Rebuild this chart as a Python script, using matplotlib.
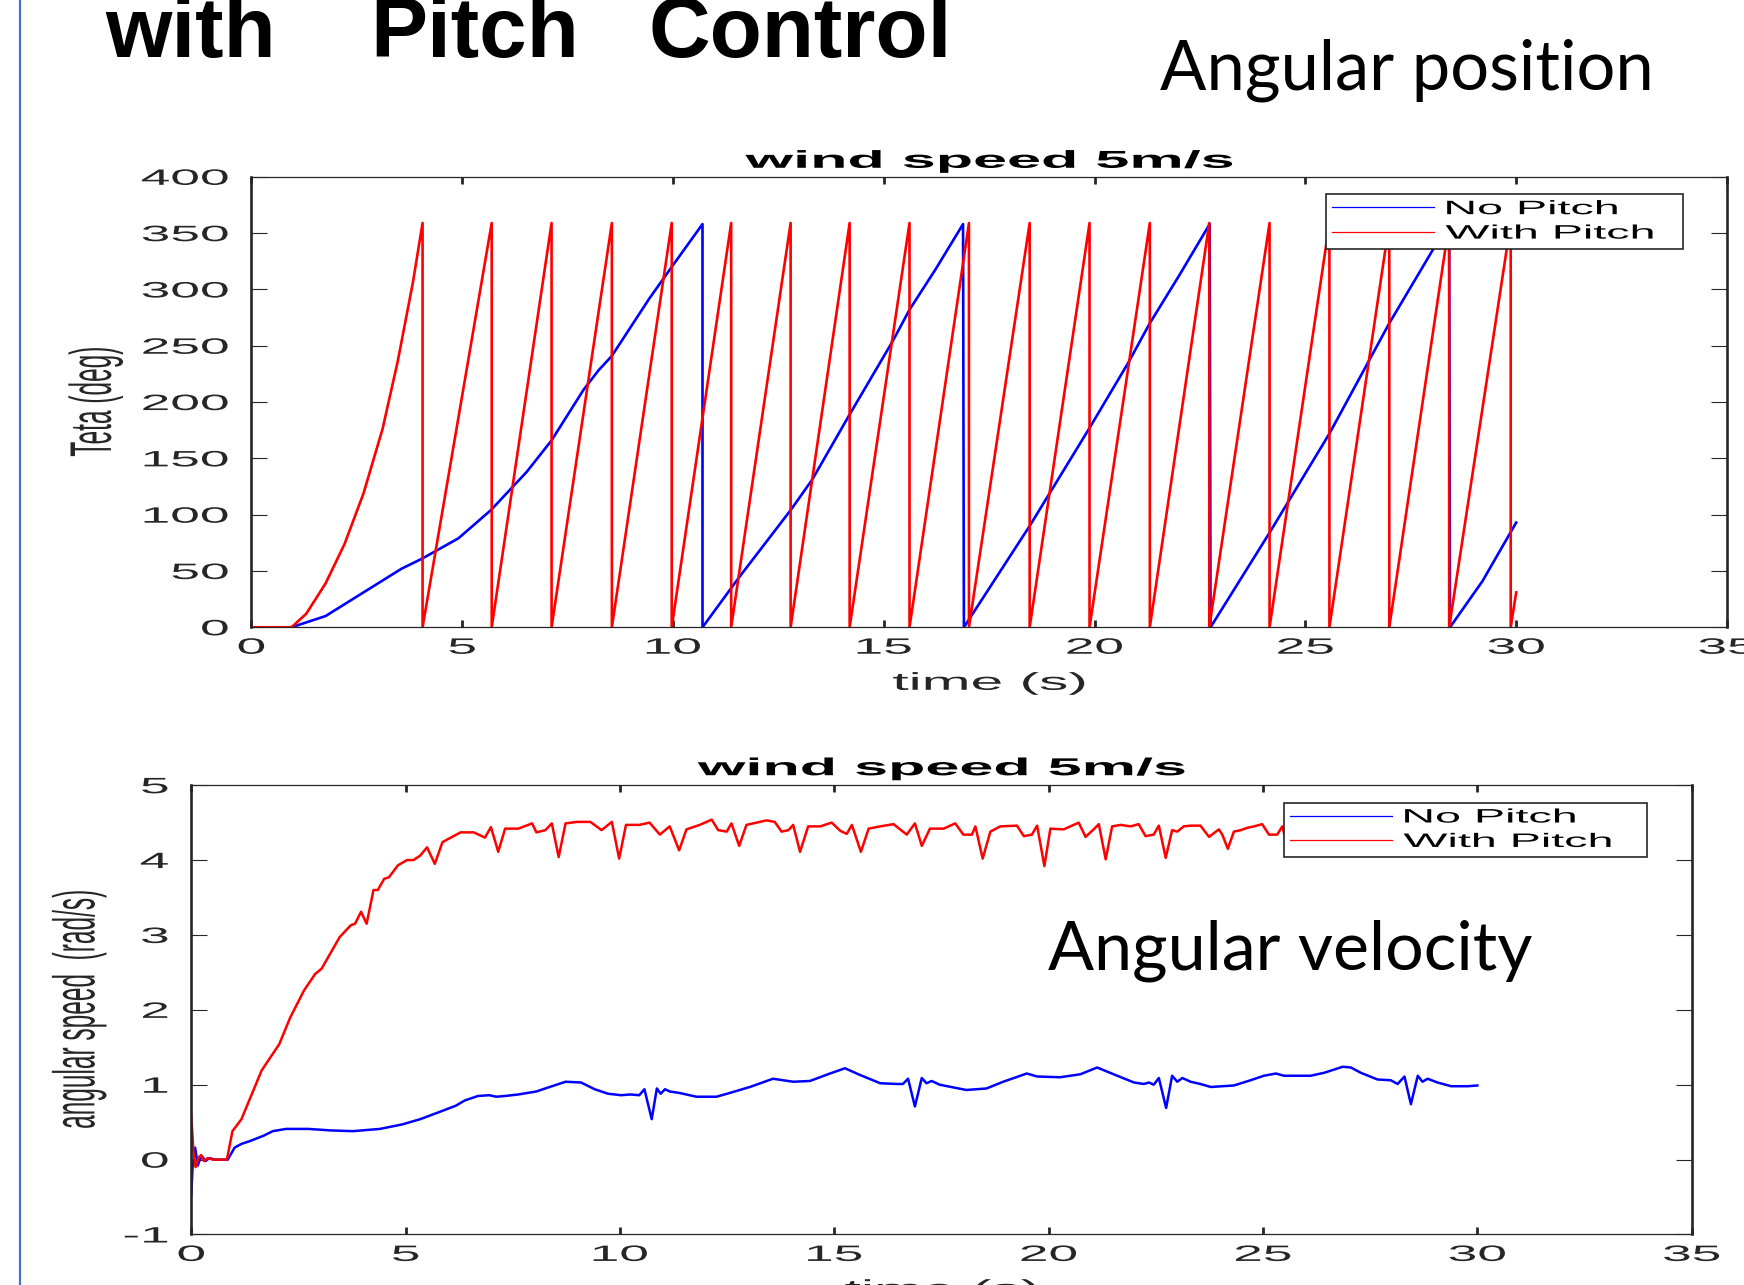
import matplotlib
matplotlib.use("Agg")
import matplotlib.pyplot as plt
import matplotlib.patheffects as pe
from matplotlib.transforms import Affine2D
from matplotlib.lines import Line2D

plt.rcParams['font.family'] = ['Liberation Sans', 'DejaVu Sans']
plt.rcParams['axes.unicode_minus'] = False

# ---------------- data ----------------
# angular position (deg), wraps at 360
red_start_t = [0, 0.95, 1.3, 1.76, 2.21, 2.66, 3.11, 3.47, 3.83, 4.06]
red_start_deg = [0, 0, 12, 39, 74, 119, 176, 236, 306, 359]
red_wraps = [4.06, 5.70, 7.12, 8.55, 9.97, 11.38, 12.79, 14.19, 15.61, 17.02,
             18.46, 19.88, 21.31, 22.72, 24.15, 25.57, 26.99, 28.41, 29.87]
red_peak = 359
red_end_t = [29.87, 30.0]
red_end_deg = [0, 31]

blue_pos_t = [0, 0.95, 1.76, 2.66, 3.56, 4.05, 4.91, 5.68, 6.53, 7.12, 7.88, 8.23,
              8.55, 9.44, 9.97, 10.70,
              10.70, 11.56, 12.79, 13.30, 14.19, 15.21, 15.61, 16.23, 16.88,
              16.90, 18.46, 19.88, 20.8, 21.31, 22.0, 22.73,
              22.75, 24.15, 25.57, 26.44, 26.99, 28.02, 28.41,
              28.43, 29.2, 30.0]
blue_pos_deg = [0, 0, 10, 31, 52, 61, 79, 104, 138, 166, 211, 228,
                241, 292, 320, 358,
                0, 44, 104, 131, 189, 254, 282, 318, 358,
                0, 90, 177, 235, 270, 312, 358,
                0, 84, 172, 232, 270, 335, 358,
                0, 41, 93]

# angular speed (rad/s)
red_spd_t = [0, 0.05, 0.1, 0.17, 0.23, 0.3, 0.38, 0.5, 0.83, 0.96, 1.17, 1.64, 2.05,
             2.31, 2.63, 2.89, 3.04, 3.46, 3.72, 3.82, 3.96, 4.09, 4.25, 4.35, 4.5,
             4.61, 4.82, 5.03, 5.18, 5.34, 5.5, 5.68, 5.86, 6.02, 6.28, 6.59, 6.85,
             6.99, 7.16, 7.32, 7.63, 7.95, 8.05, 8.26, 8.41, 8.57, 8.73, 9.0, 9.31,
             9.57, 9.81, 9.98, 10.14, 10.45, 10.69, 10.93, 11.16, 11.38, 11.55,
             11.86, 12.14, 12.29, 12.49, 12.60, 12.78, 12.95, 13.19, 13.42, 13.61,
             13.77, 13.93, 14.04, 14.20, 14.39, 14.67, 14.94, 15.14, 15.29, 15.41,
             15.62, 15.80, 16.07, 16.38, 16.69, 16.88, 17.04, 17.23, 17.55, 17.82,
             18.01, 18.21, 18.29, 18.46, 18.64, 18.87, 19.26, 19.42, 19.61, 19.73,
             19.90, 20.04, 20.35, 20.70, 20.86, 21.05, 21.17, 21.33, 21.48, 21.68,
             21.91, 22.10, 22.26, 22.45, 22.57, 22.73, 22.88, 23.0, 23.15, 23.31,
             23.54, 23.74, 23.97, 24.05, 24.18, 24.32, 24.48, 24.63, 24.79, 24.98,
             25.14, 25.33, 25.45, 25.6, 25.8, 26.2, 26.6, 26.8, 27.0, 27.2, 27.6,
             28.0, 28.2, 28.41, 28.6, 29.0, 29.4, 29.6, 29.85, 30.0]
red_spd = [0.58, 0.1, -0.1, 0.03, 0.06, -0.02, 0.02, 0.0, 0.0, 0.38, 0.54, 1.19, 1.54,
           1.90, 2.26, 2.48, 2.55, 2.97, 3.13, 3.15, 3.31, 3.15, 3.60, 3.60, 3.75,
           3.77, 3.93, 4.0, 4.0, 4.06, 4.17, 3.95, 4.24, 4.29, 4.37, 4.37, 4.30,
           4.44, 4.11, 4.42, 4.42, 4.49, 4.37, 4.40, 4.49, 4.04, 4.49, 4.51, 4.51,
           4.40, 4.51, 4.02, 4.47, 4.47, 4.50, 4.34, 4.45, 4.13, 4.41,
           4.47, 4.54, 4.40, 4.38, 4.49, 4.19, 4.47, 4.50, 4.53, 4.51,
           4.38, 4.40, 4.47, 4.11, 4.45, 4.45, 4.50, 4.39, 4.35, 4.47,
           4.11, 4.42, 4.45, 4.48, 4.34, 4.49, 4.19, 4.42, 4.42, 4.49,
           4.34, 4.34, 4.45, 4.02, 4.38, 4.45, 4.46, 4.32, 4.34, 4.46,
           3.92, 4.42, 4.41, 4.50, 4.31, 4.41, 4.48, 4.01, 4.45, 4.47,
           4.45, 4.48, 4.32, 4.34, 4.46, 4.03, 4.40, 4.38, 4.45, 4.46,
           4.46, 4.31, 4.41, 4.34, 4.15, 4.38, 4.40, 4.43, 4.45, 4.48,
           4.34, 4.34, 4.45, 4.1, 4.45, 4.5, 4.4, 4.45, 4.1, 4.45, 4.5,
           4.4, 4.45, 4.1, 4.45, 4.5, 4.4, 4.45, 4.1, 4.4]

blue_spd_t = [0, 0.03, 0.09, 0.15, 0.2, 0.26, 0.33, 0.42, 0.55, 0.85, 1.01, 1.17, 1.38,
              1.69, 1.9, 2.21, 2.73, 3.25, 3.77, 4.4, 4.92, 5.34, 5.76, 6.17, 6.38,
              6.69, 6.95, 7.11, 7.32, 7.63, 8.05, 8.36, 8.73, 9.09, 9.41, 9.72, 10.03,
              10.24, 10.45, 10.57, 10.74, 10.86, 10.95, 11.05, 11.16, 11.39, 11.78,
              12.25, 12.56, 13.03, 13.57, 14.04, 14.43, 14.9, 15.25, 15.6, 16.07,
              16.46, 16.6, 16.72, 16.88, 17.04, 17.15, 17.27, 17.46, 18.08, 18.55,
              18.94, 19.49, 19.73, 20.27, 20.74, 21.13, 21.6, 21.99, 22.22, 22.34,
              22.45, 22.57, 22.74, 22.88, 23.0, 23.12, 23.31, 23.54, 23.78, 24.32,
              24.71, 25.02, 25.3, 25.49, 26.11, 26.43, 26.86, 27.05, 27.28, 27.67,
              27.98, 28.14, 28.3, 28.45, 28.61, 28.72, 28.84, 29.07, 29.39, 29.77, 30.0]
blue_spd = [-0.47, -0.1, 0.16, -0.08, 0.0, 0.04, -0.02, 0.02, 0.0, 0.0, 0.16, 0.21, 0.25,
            0.32, 0.38, 0.41, 0.41, 0.39, 0.38, 0.41, 0.47, 0.54, 0.63, 0.72, 0.79,
            0.85, 0.86, 0.84, 0.85, 0.87, 0.91, 0.97, 1.04, 1.03, 0.94, 0.88, 0.86,
            0.87, 0.86, 0.94, 0.54, 0.95, 0.88, 0.94, 0.91, 0.89, 0.84,
            0.84, 0.89, 0.97, 1.08, 1.04, 1.05, 1.15, 1.22, 1.13, 1.02,
            1.01, 1.01, 1.08, 0.71, 1.09, 1.02, 1.05, 1.0, 0.93, 0.95,
            1.04, 1.15, 1.11, 1.10, 1.14, 1.23, 1.12, 1.03, 1.01, 1.03,
            1.0, 1.09, 0.69, 1.12, 1.04, 1.09, 1.04, 1.01, 0.97, 0.99,
            1.06, 1.12, 1.15, 1.12, 1.12, 1.16, 1.24, 1.23, 1.16, 1.07,
            1.06, 1.01, 1.11, 0.74, 1.12, 1.04, 1.08, 1.03, 0.98, 0.98, 0.99]

labels = ['No Pitch', 'With Pitch']
xticks = [0, 5, 10, 15, 20, 25, 30, 35]
pos_yticks = [0, 50, 100, 150, 200, 250, 300, 350, 400]
spd_yticks = [-1, 0, 1, 2, 3, 4, 5]

# build the wrapped red position trace from the wrap times
red_pos_t = list(red_start_t)
red_pos_deg = list(red_start_deg)
for a, b in zip(red_wraps[:-1], red_wraps[1:]):
    red_pos_t += [a, b]
    red_pos_deg += [0, red_peak]
red_pos_t += red_end_t
red_pos_deg += red_end_deg


# the matlab figure was pasted stretched sideways, so its text is wide
class Stretch(pe.AbstractPathEffect):
    def __init__(self, sx=1.0, sy=1.0, anchor='center'):
        super().__init__()
        self.sx, self.sy, self.anchor = sx, sy, anchor

    def draw_path(self, renderer, gc, tpath, affine, rgbFace=None):
        ext = tpath.get_extents()
        if self.anchor == 'left':
            x0 = ext.x0
        elif self.anchor == 'right':
            x0 = ext.x1
        else:
            x0 = (ext.x0 + ext.x1) / 2
        y0 = (ext.y0 + ext.y1) / 2
        st = Affine2D().translate(-x0, -y0).scale(self.sx, self.sy).translate(x0, y0)
        renderer.draw_path(gc, tpath, st + affine, rgbFace)


S = 2.4
INK = '#262626'

fig = plt.figure(figsize=(17.44, 12.85), dpi=100, facecolor='white')
ax1 = fig.add_axes([0.14415, 0.51183, 0.8461, 0.35058])
ax2 = fig.add_axes([0.10969, 0.03930, 0.86032, 0.34965])


def style(ax, yticks, ylim, ylabel, ylab_x, title, tpad):
    ax.set_xlim(0, 35)
    ax.set_ylim(*ylim)
    ax.set_xticks(xticks)
    ax.set_yticks(yticks)
    ax.tick_params(axis='x', direction='in', top=True, length=4.8, width=2.0,
                   pad=7.5, labelsize=16, labelcolor=INK, color=INK)
    ax.tick_params(axis='y', direction='in', right=True, length=11.5, width=0.8,
                   pad=16.5, labelsize=16, labelcolor=INK, color=INK)
    for s in ['left', 'right']:
        ax.spines[s].set_linewidth(1.9)
        ax.spines[s].set_color(INK)
    for s in ['top', 'bottom']:
        ax.spines[s].set_linewidth(0.9)
        ax.spines[s].set_color(INK)
    for t in ax.xaxis.get_major_ticks():
        t.label1.set_path_effects([Stretch(S, 1, 'center')])
    for t in ax.yaxis.get_major_ticks():
        t.label1.set_path_effects([Stretch(S, 1, 'right')])
    ax.set_xlabel('time (s)', fontsize=17.6, color=INK,
                  path_effects=[Stretch(S, 1, 'center')])
    ax.xaxis.set_label_coords(0.5, -0.101)
    ax.set_ylabel(ylabel, fontsize=17.6, color=INK,
                  path_effects=[Stretch(1, S, 'center')])
    ax.yaxis.set_label_coords(ylab_x, 0.5)
    ax.yaxis.label.set_va('center')
    ax.set_title(title, fontsize=17.6, fontweight='bold', pad=tpad,
                 path_effects=[Stretch(2.5, 1, 'center')])
    leg = ax.legend(labels, loc='upper left', bbox_to_anchor=(0.728, 0.6611, 0.2425, 0.3),
                    mode='expand', borderaxespad=0, fontsize=14, handlelength=5.25,
                    handletextpad=0.6, borderpad=0.32, labelspacing=0.35,
                    fancybox=False, framealpha=1, edgecolor=INK)
    leg.get_frame().set_linewidth(1.2)
    for ln in leg.get_lines():
        ln.set_linewidth(0.9)
    for tx in leg.get_texts():
        tx.set_path_effects([Stretch(S, 1, 'left')])


ax1.plot(blue_pos_t, blue_pos_deg, color='#0000ff', lw=1.9)
ax1.plot(red_pos_t, red_pos_deg, color='#ff0000', lw=1.9)
style(ax1, pos_yticks, (0, 400), 'Teta (deg)', -0.1053, 'wind speed 5m/s', 6.5)

ax2.plot(blue_spd_t, blue_spd, color='#0000ff', lw=1.8)
ax2.plot(red_spd_t, red_spd, color='#ff0000', lw=1.8)
style(ax2, spd_yticks, (-1, 5), 'angular speed  (rad/s)', -0.0745, 'wind speed 5m/s', 7.2)

# slide decorations
fig.add_artist(Line2D([0.0113, 0.0113], [0, 1], transform=fig.transFigure,
                      color='#4472C4', lw=1.6))
for word, x in [('with', 105), ('Pitch', 370), ('Control', 648)]:
    fig.text(x / 1744, 1 - 57 / 1285, word, fontsize=61.5, fontweight='bold',
             family='Liberation Sans', ha='left', va='baseline', color='black')

t_pos = fig.text(1160 / 1744, 1 - 89 / 1285, 'Angular position', fontsize=46,
                 family='Lato', ha='left', va='baseline', color='black')
t_vel = fig.text(1048 / 1744, 1 - 970 / 1285, 'Angular velocity', fontsize=46,
                 family='Lato', ha='left', va='baseline', color='black')

# size the slide captions to their width on the slide
r = fig.canvas.get_renderer()
for txt, w in [(t_pos, 493), (t_vel, 484)]:
    cur = txt.get_window_extent(r).width
    txt.set_fontsize(txt.get_fontsize() * w / cur)

fig.savefig('out.png', dpi=100, facecolor='white')
